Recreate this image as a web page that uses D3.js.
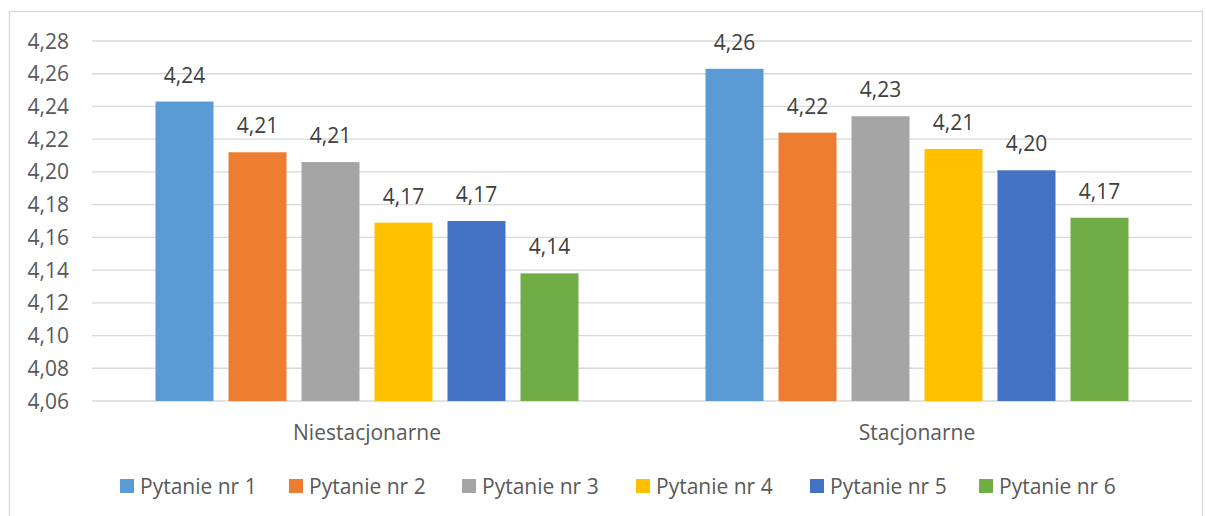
<!DOCTYPE html>
<html><head><meta charset="utf-8">
<script src="https://cdn.jsdelivr.net/npm/d3@7"></script>
<style>body{margin:0;background:#fff}svg{display:block;font-family:"Open Sans",sans-serif}</style>
</head><body><svg id="c" width="1206" height="516"></svg>
<script>
const categories = ["Niestacjonarne", "Stacjonarne"];
const seriesNames = ["Pytanie nr 1","Pytanie nr 2","Pytanie nr 3","Pytanie nr 4","Pytanie nr 5","Pytanie nr 6"];
const niestacjonarne = [4.243, 4.212, 4.206, 4.169, 4.170, 4.138];
const stacjonarne = [4.263, 4.224, 4.234, 4.214, 4.201, 4.172];
const colors = ["#5B9BD5","#ED7D31","#A5A5A5","#FFC000","#4472C4","#70AD47"];
const yTicks = [4.06,4.08,4.10,4.12,4.14,4.16,4.18,4.20,4.22,4.24,4.26,4.28];

const values = [niestacjonarne, stacjonarne];
const svg = d3.select("#c");
const fmt = v => d3.format(".2f")(v).replace(".", ",");

svg.append("rect").attr("x",9.5).attr("y",11.5).attr("width",1193).attr("height",520)
  .attr("fill","#fff").attr("stroke","#d9d9d9").attr("stroke-width",1.3);

const x0 = d3.scaleBand().domain(categories).range([92,1192]);
const x1 = d3.scaleBand().domain(seriesNames).range([0,x0.bandwidth()]).paddingInner(15/73).paddingOuter(0.87);
const y = d3.scaleLinear().domain([4.06,4.28]).range([401,41]);

svg.append("g").selectAll("line").data(yTicks).join("line")
  .attr("x1",92).attr("x2",1192).attr("y1",d=>y(d)).attr("y2",d=>y(d))
  .attr("stroke","#d9d9d9").attr("stroke-width",1.3);

svg.append("g").selectAll("text").data(yTicks).join("text")
  .attr("x",69).attr("y",d=>y(d)).attr("dy","0.36em").attr("text-anchor","end")
  .attr("font-size",21).attr("fill","#595959").text(fmt);

categories.forEach((c,ci)=>{
  const g = svg.append("g").attr("transform",`translate(${x0(c)},0)`);
  g.selectAll("rect").data(values[ci]).join("rect")
    .attr("x",(d,i)=>x1(seriesNames[i])).attr("width",x1.bandwidth())
    .attr("y",d=>y(d)).attr("height",d=>y(4.06)-y(d)).attr("fill",(d,i)=>colors[i]);
  g.selectAll("text").data(values[ci]).join("text")
    .attr("x",(d,i)=>x1(seriesNames[i])+x1.bandwidth()/2).attr("y",d=>y(d)-19)
    .attr("text-anchor","middle").attr("font-size",21).attr("fill","#404040").text(fmt);
  svg.append("text").attr("x",x0(c)+x0.bandwidth()/2).attr("y",440)
    .attr("text-anchor","middle").attr("font-size",21).attr("fill","#595959").text(c);
});

const legendX = [120, 289, 462, 636, 810, 979];
const lg = svg.append("g").selectAll("g").data(seriesNames).join("g")
  .attr("transform",(d,i)=>`translate(${legendX[i]},479)`);
lg.append("rect").attr("width",14).attr("height",14).attr("fill",(d,i)=>colors[i]);
lg.append("text").attr("x",20).attr("y",7).attr("dy","0.36em").attr("font-size",21)
  .attr("fill","#595959").text(d=>d);
</script></body></html>
